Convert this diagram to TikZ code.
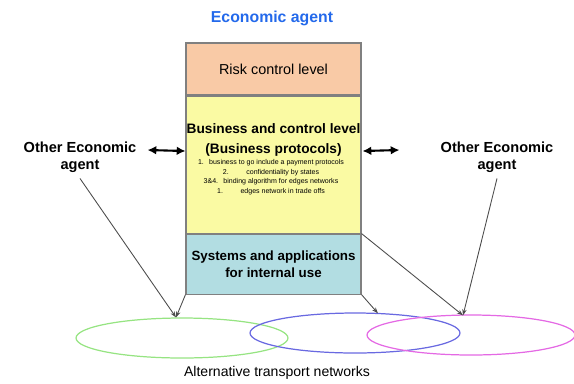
\documentclass[tikz,border=0pt]{standalone}
\usepackage{fontspec}
\setmainfont{Liberation Sans}
\usetikzlibrary{arrows.meta,positioning,shapes.geometric,calc}

\definecolor{riskfill}{RGB}{249,202,166}
\definecolor{bizfill}{RGB}{250,250,163}
\definecolor{sysfill}{RGB}{178,221,226}
\definecolor{agentblue}{RGB}{35,105,235}
\definecolor{netgreen}{RGB}{150,228,130}
\definecolor{netblue}{RGB}{105,105,225}
\definecolor{netpink}{RGB}{228,105,228}

\begin{document}
\begin{tikzpicture}[x=0.02cm,y=-0.02cm,
	level/.style={draw=gray,line width=0.6pt,minimum width=3.5cm,inner sep=0pt},
	net/.style={ellipse,line width=0.7pt,minimum height=0.8cm,inner sep=0pt},
	link/.style={draw=black!70,line width=0.5pt,-{Stealth[length=3.5pt,width=2.5pt]}},
	both/.style={line width=1.2pt,{Latex[length=5pt,width=5pt]}-{Latex[length=5pt,width=5pt]}},
	agent/.style={font=\fontsize{8.3}{9.6}\selectfont\bfseries,align=center}]
	%\draw [help lines, lightgray] (0,0) grid[step=0.5cm] (574,383);

	\useasboundingbox (0,0) rectangle (574,383);

	\node [font=\fontsize{9}{11}\selectfont\bfseries, text=agentblue] (title) at (272,18) {Economic agent};

	%% the three levels
	\node [level, fill=riskfill, minimum height=1.04cm, font=\fontsize{8.2}{10}\selectfont] (risk) at (273.5,69) {Risk control level};
	\node [level, fill=bizfill, minimum height=2.74cm, below=0pt of risk] (business) {};
	\node [level, fill=sysfill, minimum height=1.2cm, below=0pt of business, align=center,
		font=\fontsize{7.6}{10}\selectfont\bfseries] (systems) {Systems and applications\\for internal use};

	\node [align=center, font=\fontsize{7.8}{11.3}\selectfont\bfseries] (bizname) at (273.5,140)
		{Business and control level\\(Business protocols)};
	\node [align=center, font=\fontsize{4}{5.4}\selectfont] (protocols) at (271,177)
		{1.\hspace{3pt}business to go include a payment protocols\\
		 2.\hspace{10pt}confidentiality by states\\
		 3\&4.\hspace{3pt}binding algorithm for edges networks\\
		 1.\hspace{10pt}edges network in trade offs};

	%% the other agents
	\node [agent] (otherleft) at (80,157) {Other Economic\\agent};
	\node [agent] (otherright) at (497,157) {Other Economic\\agent};

	\draw [both] ($(otherleft.east)+(5,-7)$) -- ($(business.west)+(0,-13.5)$);
	\draw [both] ($(business.east)+(1,-13.5)$) -- ($(otherright.west)+(-35,-7)$);

	%% transport networks
	\node [net, draw=netgreen, minimum width=4.24cm] (greennet) at (182,338) {};
	\node [net, draw=netblue, minimum width=4.2cm] (bluenet) at (355,333) {};
	\node [net, draw=netpink, minimum width=4.16cm] (pinknet) at (471,335) {};
	\node [font=\fontsize{8}{10}\selectfont] (caption) at (277,373) {Alternative transport networks};

	\coordinate (g1) at ($(greennet.north)+(-6,0)$);
	\coordinate (b1) at ($(bluenet.north)+(23,1)$);
	\coordinate (p1) at ($(pinknet.north)+(-8,1)$);

	\draw [link] (otherleft.south) -- (g1);
	\draw [link] (systems.south west) -- (g1);
	\draw [link] (systems.south east) -- (b1);
	\draw [link] (systems.north east) -- (p1);
	\draw [link] (otherright.south) -- (p1);

\end{tikzpicture}
\end{document}
